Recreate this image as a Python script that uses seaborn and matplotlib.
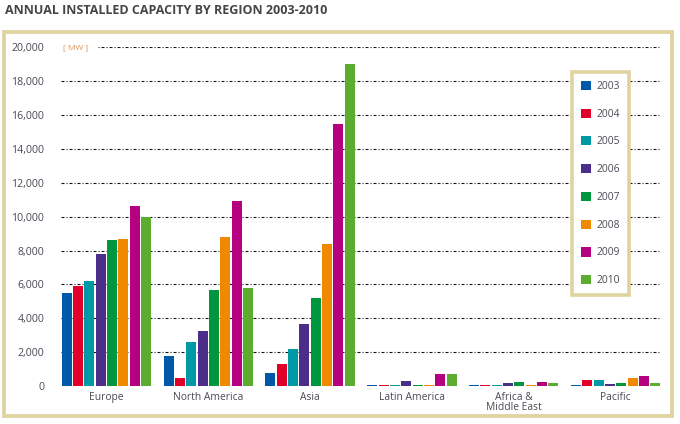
import matplotlib
matplotlib.use("Agg")
import matplotlib.pyplot as plt
import seaborn as sns
import pandas as pd
from matplotlib.patches import Patch, Rectangle

regions = ["Europe", "North America", "Asia", "Latin America", "Africa &\nMiddle East", "Pacific"]
years = ["2003", "2004", "2005", "2006", "2007", "2008", "2009", "2010"]
values = {
    "2003": [5500, 1750, 750, 50, 50, 30],
    "2004": [5900, 500, 1300, 50, 50, 340],
    "2005": [6200, 2600, 2200, 50, 50, 340],
    "2006": [7800, 3250, 3650, 280, 160, 100],
    "2007": [8600, 5650, 5200, 50, 220, 160],
    "2008": [8700, 8800, 8400, 50, 50, 460],
    "2009": [10650, 10950, 15450, 700, 220, 570],
    "2010": [10000, 5800, 19000, 700, 160, 160],
}
colors = ["#0059a8", "#e2002b", "#009aa6", "#4b2d8a", "#00963f", "#f08800", "#b5007f", "#5cad2f"]
yticks = [0, 2000, 4000, 6000, 8000, 10000, 12000, 14000, 16000, 18000, 20000]
title = "ANNUAL INSTALLED CAPACITY BY REGION 2003-2010"
unit = "[ MW ]"

rows = []
for y in years:
    for r, v in zip(regions, values[y]):
        rows.append({"region": r, "year": y, "mw": v})
df = pd.DataFrame(rows)

sns.set_theme(style="white")
plt.rcParams["font.family"] = ["Open Sans", "DejaVu Sans"]

fig = plt.figure(figsize=(6.8, 4.24), dpi=100)
ax = fig.add_axes([61 / 680, 38 / 424, 600 / 680, 338.7 / 424])

beige = "#dfd3a0"
txt = "#4a4a55"

for t in yticks[1:]:
    ax.axhline(t, color="#111111", lw=0.8, ls=(0, (2.7, 1.8, 0.9, 1.8)), zorder=0)

sns.barplot(data=df, x="region", y="mw", hue="year", hue_order=years,
            palette=colors, width=0.89, gap=0.12, ax=ax, legend=False,
            saturation=1, zorder=2, linewidth=0, edgecolor="none")

ax.set_xlim(-0.445, 5.445)
ax.set_ylim(0, 20000)
ax.set_yticks(yticks)
ax.set_yticklabels([f"{t:,}" for t in yticks])
ax.set_xlabel("")
ax.set_ylabel("")
for s in ax.spines.values():
    s.set_visible(False)
ax.tick_params(axis="y", length=0, pad=12, labelsize=7.6, labelcolor=txt)
ax.tick_params(axis="x", length=0, pad=4, labelsize=7.4, labelcolor=txt)
for lab in ax.get_xticklabels():
    lab.set_linespacing(0.95)

ax.text(0.004, 20000, unit, transform=ax.get_yaxis_transform(), ha="left", va="center",
        fontsize=6, color="#e0945a", zorder=3,
        bbox=dict(boxstyle="square,pad=1.0", fc="white", ec="none"))

handles = [Patch(facecolor=c, edgecolor="none", label=y) for c, y in zip(colors, years)]
leg = ax.legend(handles=handles, loc="upper left",
                bbox_to_anchor=((572 - 61) / 600, (386 - 72) / 338.7),
                fontsize=7.4, frameon=True, fancybox=False, edgecolor=beige,
                facecolor="white", framealpha=1, handlelength=1.0, handleheight=1.0,
                handletextpad=0.5, labelspacing=1.62, borderpad=0.85, borderaxespad=0)
leg.get_frame().set_linewidth(2.6)
for t in leg.get_texts():
    t.set_color(txt)
leg.set_zorder(5)

fig.patches.append(Rectangle((3.7 / 680, 1 - 416.2 / 424), (672.3 - 3.7) / 680, (416.2 - 32) / 424,
                             transform=fig.transFigure, fill=False, ec=beige, lw=2.7, zorder=0))
fig.text(5 / 680, 1 - 10 / 424, title, ha="left", va="center", fontsize=9,
         fontweight="bold", color="#454545")

fig.savefig("out.png", dpi=100)
